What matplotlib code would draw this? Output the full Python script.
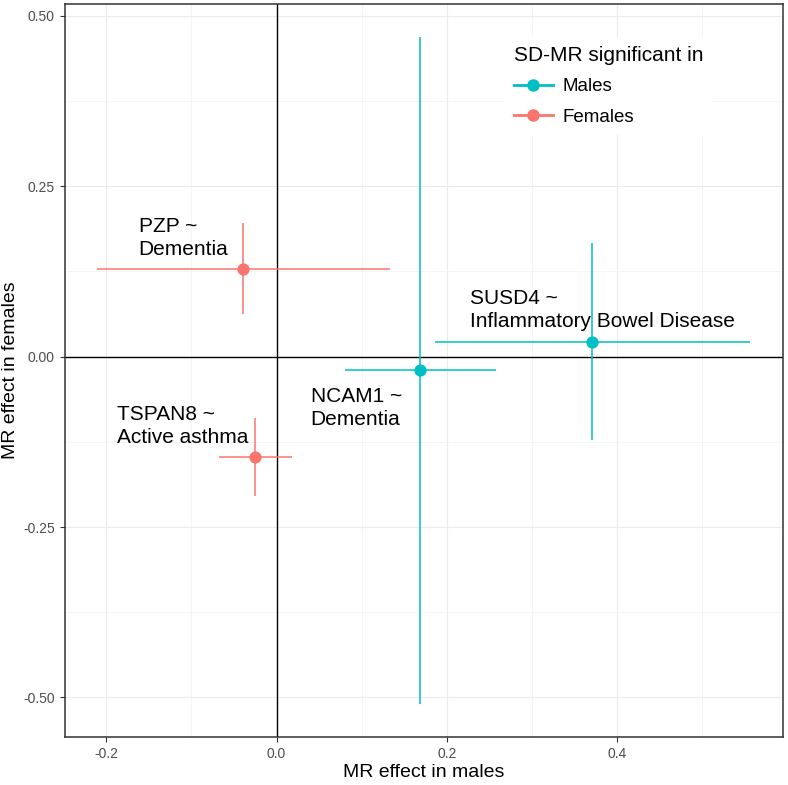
import matplotlib
matplotlib.use('Agg')
import matplotlib.pyplot as plt
from matplotlib.lines import Line2D

plt.rcParams['font.family'] = ['Liberation Sans', 'DejaVu Sans']

# MR estimates (point, half-width of CI) for each gene ~ disease pair
genes = ['PZP', 'TSPAN8', 'NCAM1', 'SUSD4']
diseases = ['Dementia', 'Active asthma', 'Dementia', 'Inflammatory Bowel Disease']
sig_in = ['Females', 'Females', 'Males', 'Males']
male_eff = [-0.039, -0.025, 0.169, 0.371]
male_err = [0.172, 0.043, 0.089, 0.185]
female_eff = [0.129, -0.147, -0.020, 0.022]
female_err = [0.067, 0.057, 0.489, 0.144]
# where the gene ~ disease labels sit (lower-left corner of the text)
label_x = [-0.162, -0.187, 0.040, 0.227]
label_y = [0.143, -0.133, -0.106, 0.038]

colors = {'Males': '#00BFC4', 'Females': '#F8766D'}

fig = plt.figure(figsize=(7.88, 7.85), dpi=100)
ax = fig.add_axes([0.0821, 0.0611, 0.9115, 0.9338])

ax.set_xlim(-0.249, 0.595)
ax.set_ylim(-0.558, 0.517)
ax.set_xticks([-0.2, 0.0, 0.2, 0.4])
ax.set_xticklabels(['-0.2', '0.0', '0.2', '0.4'])
ax.set_yticks([-0.5, -0.25, 0.0, 0.25, 0.5])
ax.set_yticklabels(['-0.50', '-0.25', '0.00', '0.25', '0.50'])
ax.set_xticks([-0.1, 0.1, 0.3, 0.5], minor=True)
ax.set_yticks([-0.375, -0.125, 0.125, 0.375], minor=True)
ax.grid(which='major', color='#EBEBEB', lw=0.8)
ax.grid(which='minor', color='#F2F2F2', lw=0.5)
ax.set_axisbelow(True)
ax.tick_params(which='major', length=3.5, width=0.8, color='#333333',
               labelsize=10, labelcolor='#4D4D4D')
ax.tick_params(which='minor', length=0)
for s in ax.spines.values():
    s.set_color('#333333')
    s.set_linewidth(1.1)

ax.axhline(0, color='black', lw=1.0, zorder=1)
ax.axvline(0, color='black', lw=1.0, zorder=1)

for i in range(len(genes)):
    c = colors[sig_in[i]]
    ax.errorbar(male_eff[i], female_eff[i], xerr=male_err[i], yerr=female_err[i],
                fmt='o', color=c, ms=7.8, elinewidth=1.1, capsize=0, zorder=3)
    ax.text(label_x[i], label_y[i], genes[i] + ' ~\n' + diseases[i],
            fontsize=15, ha='left', va='bottom', linespacing=1.25, zorder=4)

handles = [Line2D([], [], color=colors[k], marker='o', ms=8, lw=2.0) for k in ['Males', 'Females']]
leg = ax.legend(handles, ['Males', 'Females'], title='SD-MR significant in',
                loc='upper left', bbox_to_anchor=(0.599, 0.968), frameon=True,
                fontsize=13.5, title_fontsize=15, handlelength=2.1,
                handletextpad=0.5, labelspacing=0.7, borderpad=0.5)
leg.get_frame().set_edgecolor('none')
leg.get_frame().set_facecolor('white')
leg.get_frame().set_alpha(1)
leg._legend_box.align = 'left'

ax.set_xlabel('MR effect in males', fontsize=14, labelpad=2)
ax.set_ylabel('MR effect in females', fontsize=14, labelpad=3)

fig.savefig('out.png', dpi=100)
